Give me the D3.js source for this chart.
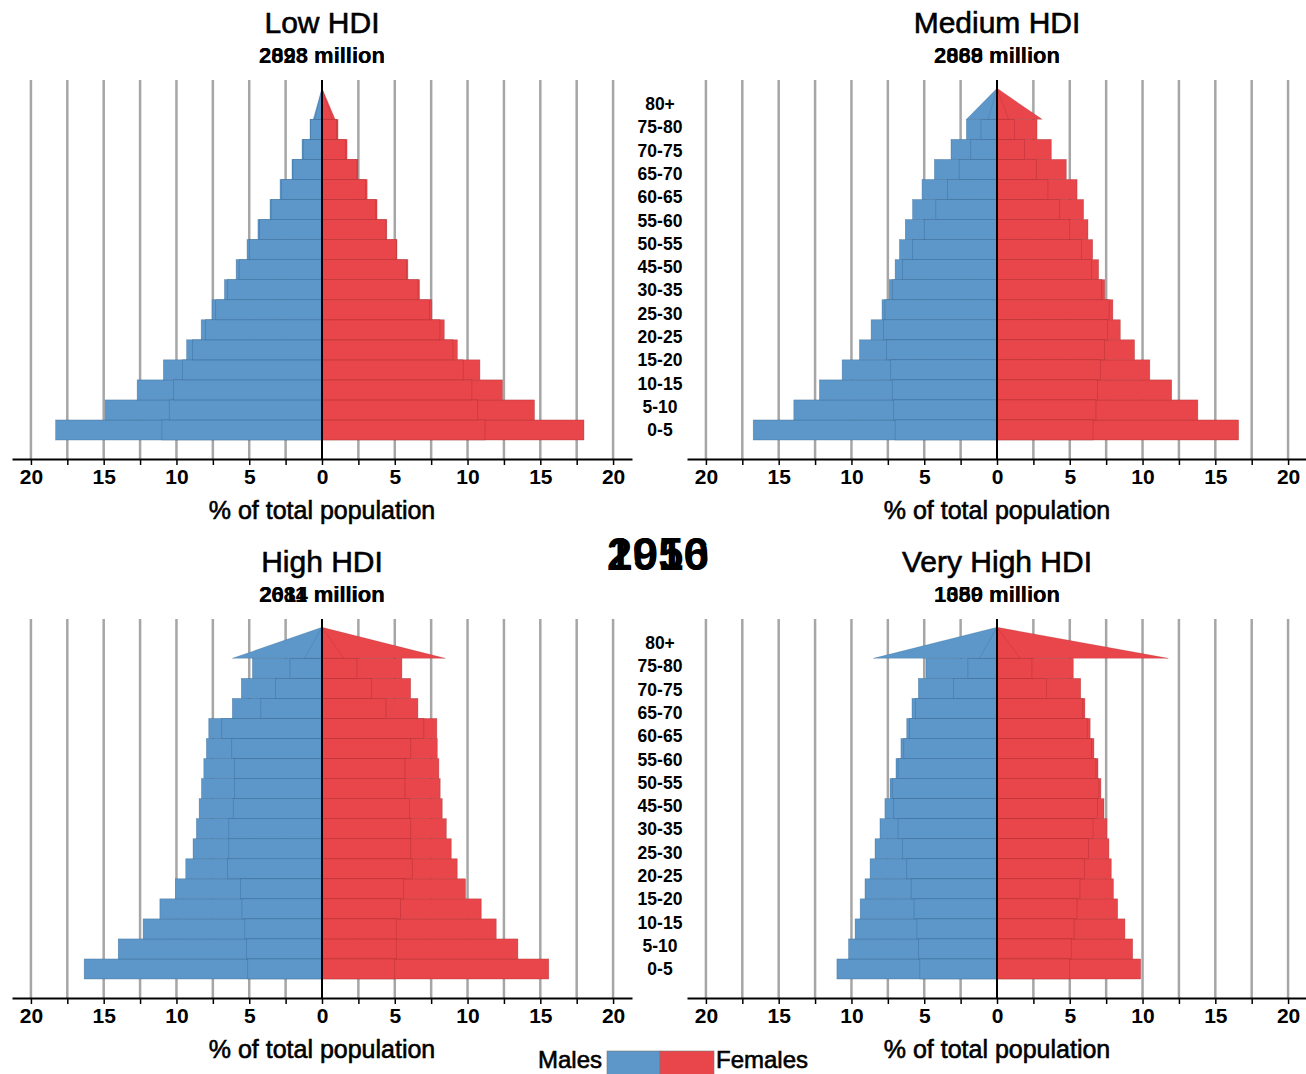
<!DOCTYPE html>
<html>
<head>
<meta charset="utf-8">
<script src="https://cdn.jsdelivr.net/npm/d3@7"></script>
<style>
  body { margin: 0; background: #fff; }
  text { font-family: "Liberation Sans", Arial, sans-serif; fill: #000; }
  .heavy { stroke: #000; stroke-width: 0.6px; }
</style>
</head>
<body>
<svg id="chart" width="1306" height="1074"></svg>
<script>
//========================== Data ================================

const ageGroups = ['0-5','5-10','10-15','15-20','20-25','25-30','30-35','35-40','40-45',
                   '45-50','50-55','55-60','60-65','65-70','70-75','75-80','80+']
// labels as printed in the middle column
const ageLabels = ['0-5','5-10','10-15','15-20','20-25','25-30','30-35','45-50',
                   '50-55','55-60','60-65','65-70','70-75','75-80','80+']
const years = [1950, 2016]
const gridValues = [-20,-17.5,-15,-12.5,-10,-7.5,-5,-2.5,0,2.5,5,7.5,10,12.5,15,17.5,20]

// % of total population, 0-5 first, 80+ last
const lowMales1950   = [11.0, 10.5, 10.2, 9.6, 8.9, 8.0, 7.3, 6.5, 5.7, 5.0, 4.3, 3.5, 2.8, 2.0, 1.3, 0.8, 0.5]
const lowFemales1950 = [11.2, 10.7, 10.3, 9.7, 9.0, 8.1, 7.4, 6.6, 5.8, 5.1, 4.4, 3.7, 3.0, 2.4, 1.6, 1.0, 0.7]
const lowMales2016   = [18.3, 14.9, 12.7, 10.9, 9.3, 8.3, 7.55, 6.7, 5.9, 5.15, 4.4, 3.57, 2.88, 2.06, 1.37, 0.82, 0.6]
const lowFemales2016 = [18.0, 14.6, 12.4, 10.85, 9.3, 8.4, 7.55, 6.7, 5.9, 5.15, 4.45, 3.78, 3.1, 2.47, 1.72, 1.1, 0.9]

const mediumMales1950   = [16.75, 13.96, 12.2, 10.64, 9.45, 8.65, 7.9, 7.2, 6.5, 5.8, 5.0, 4.2, 3.4, 2.6, 1.8, 1.1, 0.6]
const mediumFemales1950 = [16.6, 13.8, 12.0, 10.5, 9.45, 8.47, 7.96, 7.2, 6.5, 5.8, 5.0, 4.3, 3.5, 2.7, 1.9, 1.2, 0.8]
const mediumMales2016   = [7.0, 7.1, 7.2, 7.3, 7.6, 7.8, 7.7, 7.4, 7.0, 6.7, 6.3, 5.8, 5.15, 4.3, 3.16, 2.1, 2.1]
const mediumFemales2016 = [6.6, 6.8, 6.9, 7.1, 7.4, 7.6, 7.7, 7.4, 6.98, 6.57, 6.25, 5.95, 5.5, 4.76, 3.73, 2.75, 3.1]

const highMales1950   = [16.34, 14.0, 12.29, 11.14, 10.07, 9.36, 8.86, 8.63, 8.44, 8.28, 8.12, 7.94, 7.78, 4.2, 3.2, 2.2, 1.2]
const highFemales1950 = [15.58, 13.46, 11.97, 10.94, 9.86, 9.29, 8.88, 8.54, 8.26, 8.12, 8.03, 7.92, 7.89, 4.4, 3.4, 2.4, 1.5]
const highMales2016   = [5.1, 5.2, 5.3, 5.5, 5.6, 6.5, 6.4, 6.4, 6.1, 6.0, 6.0, 6.2, 6.9, 6.16, 5.54, 4.78, 6.16]
const highFemales2016 = [5.0, 5.1, 5.1, 5.4, 5.6, 6.2, 6.1, 6.1, 6.0, 5.7, 5.7, 6.1, 7.0, 6.59, 6.09, 5.49, 8.47]

const veryHighMales1950   = [11.0, 10.2, 9.75, 9.4, 9.07, 8.72, 8.38, 8.04, 7.7, 7.35, 6.94, 6.6, 6.2, 5.84, 3.0, 2.0, 1.2]
const veryHighFemales1950 = [9.87, 9.32, 8.79, 8.29, 8.0, 7.85, 7.69, 7.55, 7.35, 7.14, 6.94, 6.66, 6.4, 6.04, 3.4, 2.4, 1.6]
const veryHighMales2016   = [5.3, 5.4, 5.5, 5.7, 5.9, 6.2, 6.5, 6.8, 7.1, 7.2, 6.8, 6.4, 6.0, 5.6, 5.4, 4.88, 8.49]
const veryHighFemales2016 = [5.0, 5.1, 5.3, 5.5, 5.7, 6.0, 6.3, 6.6, 6.9, 7.0, 6.8, 6.5, 6.2, 5.9, 5.75, 5.24, 11.77]

// total population (million), one per year
const lowPop = [2028, 2893]
const mediumPop = [2069, 2888]
const highPop = [2011, 2684]
const veryHighPop = [1089, 1350]

//========================== Chart ================================

const maleColor = '#5d97c9', femaleColor = '#e8464a'
const svg = d3.select('#chart')
svg.append('rect').attr('width', 1306).attr('height', 1074).attr('fill', '#fff')

let panels = [
  { title: 'Low HDI', cx: 322, axisY: 459, pop: lowPop,
    males: [lowMales1950, lowMales2016], females: [lowFemales1950, lowFemales2016] },
  { title: 'Medium HDI', cx: 997, axisY: 459, pop: mediumPop,
    males: [mediumMales1950, mediumMales2016], females: [mediumFemales1950, mediumFemales2016] },
  { title: 'High HDI', cx: 322, axisY: 998, pop: highPop,
    males: [highMales1950, highMales2016], females: [highFemales1950, highFemales2016] },
  { title: 'Very High HDI', cx: 997, axisY: 998, pop: veryHighPop,
    males: [veryHighMales1950, veryHighMales2016], females: [veryHighFemales1950, veryHighFemales2016] }
]

let drawPanel = (p) => {
  let g = svg.append('g')
  let x = d3.scaleLinear().domain([-21.3, 21.3]).range([p.cx - 310, p.cx + 310])
  let bottom = p.axisY - 19
  let y = d3.scaleBand().domain(ageGroups).range([bottom, bottom - 17 * 20.04])
  let bw = y.bandwidth()

  // grid
  g.selectAll('line.grid').data(gridValues.filter(v => v !== 0)).join('line')
    .attr('x1', d => x(d)).attr('x2', d => x(d))
    .attr('y1', p.axisY - 379).attr('y2', p.axisY)
    .attr('stroke', '#a6a6a6').attr('stroke-width', 2.5)

  // every year's bars, widest first so each edge stays visible
  let bars = []
  years.forEach((yr, k) => {
    ageGroups.forEach((age, i) => {
      bars.push({ age, sex: 'm', v: p.males[k][i] })
      bars.push({ age, sex: 'f', v: p.females[k][i] })
    })
  })
  bars.sort((a, b) => b.v - a.v)

  let fill = d => d.sex === 'm' ? maleColor : femaleColor
  let edge = d => d.sex === 'm' ? '#2f5f8a' : '#9e2a2e'

  g.selectAll('rect.bar').data(bars.filter(d => d.age !== '80+')).join('rect')
    .attr('x', d => d.sex === 'm' ? x(-d.v) : x(0))
    .attr('width', d => x(d.v) - x(0))
    .attr('y', d => y(d.age))
    .attr('height', bw)
    .attr('fill', fill).attr('stroke', edge)
    .attr('stroke-width', 0.6).attr('stroke-opacity', 0.55)

  // oldest group drawn as a triangle
  let top = d3.line()
  g.selectAll('path.top').data(bars.filter(d => d.age === '80+')).join('path')
    .attr('d', d => {
      let base = y('80+') + bw, apex = y('80+') - bw * 0.55
      let edgeX = d.sex === 'm' ? x(-d.v) : x(d.v)
      return top([[x(0), apex], [edgeX, base], [x(0), base]]) + 'Z'
    })
    .attr('fill', fill).attr('stroke', edge)
    .attr('stroke-width', 0.6).attr('stroke-opacity', 0.4)

  g.append('line')
    .attr('x1', x(0)).attr('x2', x(0))
    .attr('y1', p.axisY - 379).attr('y2', p.axisY)
    .attr('stroke', '#000').attr('stroke-width', 2)

  let axis = g.append('g').attr('transform', `translate(0,${p.axisY})`)
    .call(d3.axisBottom(x).tickValues(gridValues).tickSize(6).tickSizeOuter(0).tickPadding(4)
      .tickFormat(d => d % 5 === 0 ? Math.abs(d) : ''))
  axis.select('.domain').attr('stroke', '#000').attr('stroke-width', 2)
  axis.selectAll('.tick line').attr('stroke', '#000').attr('stroke-width', 1.5)
  axis.selectAll('.tick text').attr('font-size', 21).attr('font-weight', 'bold')
    .attr('font-family', '"Liberation Sans", Arial, sans-serif').attr('fill', '#000')

  g.append('text').attr('x', p.cx).attr('y', p.axisY + 60)
    .attr('class', 'heavy')
    .attr('text-anchor', 'middle').attr('font-size', 25)
    .text('% of total population')

  g.append('text').attr('x', p.cx).attr('y', p.axisY - 426)
    .attr('class', 'heavy')
    .attr('text-anchor', 'middle').attr('font-size', 30)
    .text(p.title)

  g.selectAll('text.pop').data(p.pop).join('text')
    .attr('x', p.cx).attr('y', p.axisY - 396)
    .attr('text-anchor', 'middle').attr('font-size', 22).attr('font-weight', 'bold')
    .text(d => `${d} million`)
}

panels.forEach(drawPanel)

// age labels in the middle column
;[459, 998].forEach(axisY => {
  let ly = d3.scalePoint().domain(ageLabels).range([axisY - 29, axisY - 355])
  svg.append('g').selectAll('text').data(ageLabels).join('text')
    .attr('x', 660).attr('y', d => ly(d))
    .attr('dy', '0.35em').attr('text-anchor', 'middle')
    .attr('font-size', 17.5).attr('font-weight', 'bold')
    .text(d => d)
})

// overlapping year stamps
svg.selectAll('text.year').data(years).join('text')
  .attr('x', 658).attr('y', 570)
  .attr('text-anchor', 'middle').attr('font-size', 46).attr('font-weight', 'bold')
  .text(d => d)

// legend
let legend = svg.append('g')
legend.append('text').attr('x', 602).attr('y', 1068).attr('text-anchor', 'end')
  .attr('class', 'heavy').attr('font-size', 24).text('Males')
legend.append('rect').attr('x', 607).attr('y', 1051).attr('width', 53).attr('height', 30)
  .attr('fill', maleColor).attr('stroke', '#777').attr('stroke-width', 0.6)
legend.append('rect').attr('x', 660).attr('y', 1051).attr('width', 54).attr('height', 30)
  .attr('fill', femaleColor).attr('stroke', '#777').attr('stroke-width', 0.6)
legend.append('text').attr('x', 716).attr('y', 1068)
  .attr('class', 'heavy').attr('font-size', 24).text('Females')
</script>
</body>
</html>
